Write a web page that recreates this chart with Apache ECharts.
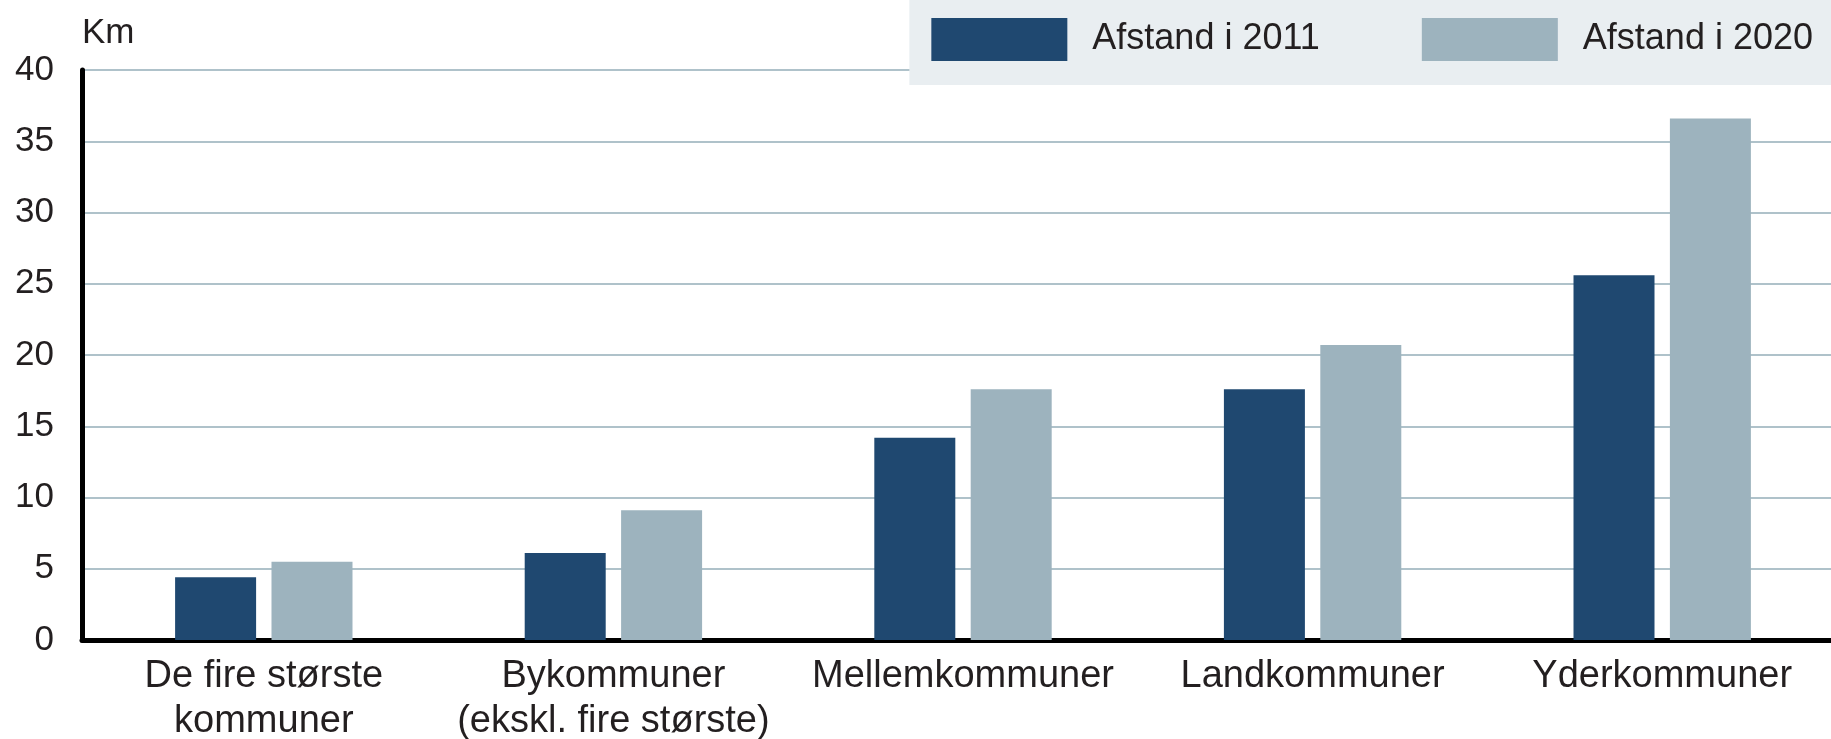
<!DOCTYPE html>
<html>
<head>
<meta charset="utf-8">
<script src="https://cdn.jsdelivr.net/npm/echarts@6/dist/echarts.min.js"></script>
<style>
html,body{margin:0;padding:0;background:#fff;}
#chart{width:1831px;height:739px;}
</style>
</head>
<body>
<div id="chart"></div>
<script>
const categories = ['De fire største\nkommuner', 'Bykommuner\n(ekskl. fire største)', 'Mellemkommuner', 'Landkommuner', 'Yderkommuner'];
const seriesNames = ['Afstand i 2011', 'Afstand i 2020'];
const values2011 = [4.4, 6.1, 14.2, 17.6, 25.6];
const values2020 = [5.5, 9.1, 17.6, 20.7, 36.6];
const yMin = 0, yMax = 40, yInterval = 5;
const yUnit = 'Km';

const FONT = '"Liberation Sans", Arial, sans-serif';
const TXT = '#231f20';

const chart = echarts.init(document.getElementById('chart'), null, {renderer: 'canvas'});
chart.setOption({
  backgroundColor: '#ffffff',
  animation: false,
  legend: {
    right: 0, top: 0,
    backgroundColor: '#e9eef1',
    padding: [18, 18, 24, 22],
    itemWidth: 136, itemHeight: 43,
    itemGap: 102,
    icon: 'rect',
    data: seriesNames,
    textStyle: {fontFamily: FONT, fontSize: 36, color: TXT, width: 227, padding: [0, 0, 0, 20]}
  },
  grid: [
    {left: 89, right: -6, top: 70, bottom: 99, outerBoundsMode: 'none', containLabel: false},
    {left: 82, right: 0, top: 70, bottom: 99, outerBoundsMode: 'none', containLabel: false}
  ],
  xAxis: [
    {
      gridIndex: 0, type: 'category', data: categories,
      axisLine: {show: false}, axisTick: {show: false},
      axisLabel: {fontFamily: FONT, fontSize: 38, color: TXT, lineHeight: 45, margin: 14, interval: 0}
    },
    {
      gridIndex: 1, type: 'value', min: 0, max: 1,
      axisLine: {show: true, lineStyle: {color: '#000', width: 5}},
      axisTick: {show: false}, axisLabel: {show: false}, splitLine: {show: false}
    }
  ],
  yAxis: [
    {gridIndex: 0, type: 'value', min: yMin, max: yMax, interval: yInterval, show: false},
    {
      gridIndex: 1, type: 'value', min: yMin, max: yMax, interval: yInterval,
      name: yUnit, nameLocation: 'end', nameGap: 19,
      nameTextStyle: {fontFamily: FONT, fontSize: 35, color: TXT, align: 'left'},
      axisLine: {show: true, lineStyle: {color: '#000', width: 5}},
      axisTick: {show: false},
      axisLabel: {fontFamily: FONT, fontSize: 35, color: TXT, margin: 28, padding: [7, 0, 0, 0]},
      splitLine: {show: true, lineStyle: {color: '#afc2ca', width: 2}}
    }
  ],
  series: [
    {
      name: seriesNames[0], type: 'bar', xAxisIndex: 0, yAxisIndex: 0,
      data: values2011, barWidth: 81, barGap: '19%',
      itemStyle: {color: '#1f4870'}
    },
    {
      name: seriesNames[1], type: 'bar', xAxisIndex: 0, yAxisIndex: 0,
      data: values2020, barWidth: 81, barGap: '19%',
      itemStyle: {color: '#9db3be'}
    }
  ]
});
</script>
</body>
</html>
